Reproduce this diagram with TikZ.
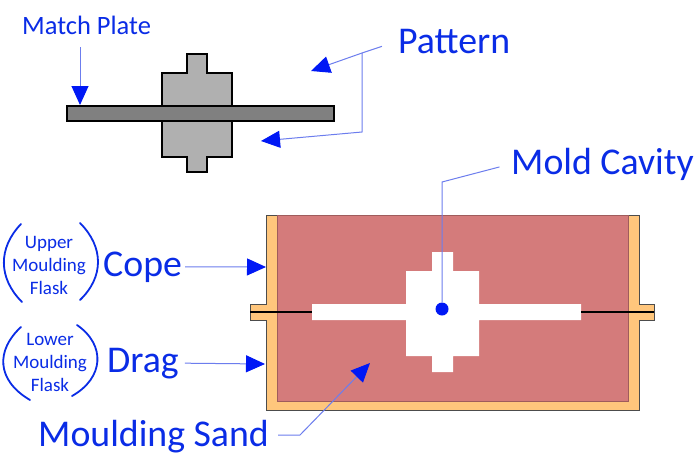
\documentclass[tikz,border=0pt]{standalone}
\usepackage{fontspec}
\setmainfont{Carlito}
\usetikzlibrary{arrows.meta, positioning}
\definecolor{labelblue}{HTML}{0A2CE6}
\definecolor{tipblue}{HTML}{0018F5}
\definecolor{leaderblue}{HTML}{6C7DEE}
\definecolor{sandred}{HTML}{D47B7B}
\definecolor{flaskorange}{HTML}{FFC67C}
\definecolor{patterngray}{HTML}{B0B0B0}
\definecolor{plategray}{HTML}{808080}

\begin{document}
\begin{tikzpicture}[x=1pt, y=-1pt,
      biglabel/.style={anchor=base west, inner sep=0pt, text=labelblue, font=\fontsize{37.8}{42}\selectfont},
      smalllabel/.style={inner sep=0pt, text=labelblue, align=center, font=\fontsize{19}{23}\selectfont},
      leader/.style={leaderblue, line width=1pt},
      arr/.style={leader, -{Triangle[length=19pt, width=17pt, color=tipblue, fill=tipblue]}},
      paren/.style={labelblue, line width=1.8pt, line cap=round},
      solid part/.style={draw=black, line width=1.4pt}]
    \useasboundingbox (0, 0) rectangle (700, 463);
    \fill[white] (0, 0) rectangle (700, 463);
    % pattern on its plate
    \draw[solid part, fill=patterngray] (187, 54) -- (207, 54) -- (207, 73) -- (232, 73) -- (232, 157)
      -- (207, 157) -- (207, 172) -- (187, 172) -- (187, 157) -- (162, 157) -- (162, 73) -- (187, 73) -- cycle;
    \draw[solid part, fill=plategray] (67, 106) rectangle (334, 121);
    % flask, sand and cavity
    \draw[fill=flaskorange, draw=black!70, line width=0.9pt] (266, 215) -- (266, 304) -- (250, 304) -- (250, 320)
      -- (266, 320) -- (266, 410) -- (639, 410) -- (639, 320) -- (654, 320) -- (654, 304) -- (639, 304)
      -- (639, 215) -- cycle;
    \draw[fill=sandred, draw=sandred!75!black, line width=0.7pt] (277, 215) rectangle (628, 401);
    \fill[white] (432, 252) -- (453, 252) -- (453, 271) -- (479, 271) -- (479, 304) -- (581, 304) -- (581, 320)
      -- (479, 320) -- (479, 356) -- (453, 356) -- (453, 372) -- (432, 372) -- (432, 356) -- (406, 356)
      -- (406, 320) -- (312, 320) -- (312, 304) -- (406, 304) -- (406, 271) -- (432, 271) -- cycle;
    \draw[black, line width=1.2pt] (250, 312) -- (312, 312);
    \draw[black, line width=1.2pt] (581, 312) -- (654, 312);
    % labels
    \node[biglabel, font=\fontsize{26.5}{32}\selectfont] (matchplate) at (22, 34) {Match Plate};
    \node[biglabel] (pattern) at (398, 53) {Pattern};
    \node[biglabel] (moldcavity) at (511, 174) {Mold Cavity};
    \node[biglabel] (cope) at (103, 276) {Cope};
    \node[biglabel] (drag) at (107, 372) {Drag};
    \node[biglabel] (mouldingsand) at (38, 446) {Moulding Sand};
    \node[smalllabel] (upperflask) at (49, 265) {Upper\\Moulding\\Flask};
    \node[smalllabel] (lowerflask) at (50, 362) {Lower\\Moulding\\Flask};
    % brackets
    \draw[paren] (21, 224) .. controls (-2, 248) and (-2, 278) .. (22, 302);
    \draw[paren] (80, 223) .. controls (104, 247) and (104, 277) .. (80, 300);
    \draw[paren] (21, 327) .. controls (-4, 350) and (-4, 380) .. (30, 400);
    \draw[paren] (77, 325) .. controls (106, 345) and (104, 378) .. (72, 396);
    % leaders
    \coordinate (matchtip) at (80, 105);
    \coordinate (patternfork) at (362, 53);
    \coordinate (patternelbow) at (362, 132);
    \coordinate (uppertip) at (311, 71);
    \coordinate (lowertip) at (261, 141);
    \coordinate (cavityelbow) at (442, 182);
    \node[circle, fill=tipblue, minimum size=13pt, inner sep=0pt] (cavitydot) at (442, 309) {};
    \coordinate (copetip) at (266, 267);
    \coordinate (dragtip) at (265, 364);
    \coordinate (sandelbow) at (300, 435);
    \coordinate (sandtip) at (370, 363);
    \draw[arr, shorten <=13pt] (matchplate.south -| matchtip) -- (matchtip);
    \draw[leader, shorten <=17pt] (pattern.west) -- (patternfork);
    \draw[arr] (patternfork) -- (uppertip);
    \draw[arr] (patternfork) -- (patternelbow) -- (lowertip);
    \draw[leader, shorten <=12pt] (moldcavity.west) -- (cavityelbow) -- (cavitydot);
    \draw[arr, shorten <=3pt] (cope.east) -- (copetip);
    \draw[arr, shorten <=6pt] (drag.east) -- (dragtip);
    \draw[arr, shorten <=9pt] (mouldingsand.east |- sandelbow) -- (sandelbow) -- (sandtip);
  \end{tikzpicture}
\end{document}
